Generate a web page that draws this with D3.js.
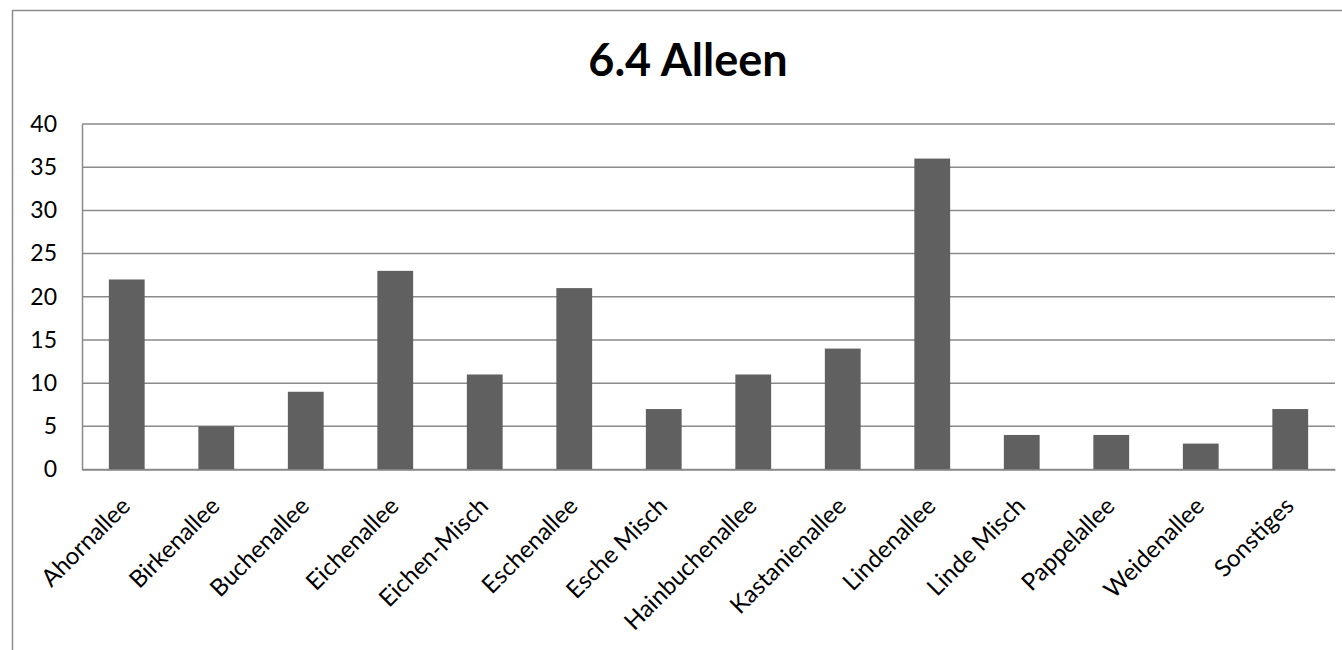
<!DOCTYPE html>
<html>
<head>
<meta charset="utf-8">
<script src="https://cdn.jsdelivr.net/npm/d3@7"></script>
<style>
  html, body { margin: 0; padding: 0; background: #fff; }
  svg { display: block; font-family: Lato, "Open Sans", sans-serif; }
</style>
</head>
<body>
<svg id="chart" width="1342" height="650"></svg>
<script>
// Alleen nach Baumart
const categories = ["Ahornallee", "Birkenallee", "Buchenallee", "Eichenallee", "Eichen-Misch",
  "Eschenallee", "Esche Misch", "Hainbuchenallee", "Kastanienallee", "Lindenallee",
  "Linde Misch", "Pappelallee", "Weidenallee", "Sonstiges"];
const counts = [22, 5, 9, 23, 11, 21, 7, 11, 14, 36, 4, 4, 3, 7];
const yTicks = [0, 5, 10, 15, 20, 25, 30, 35, 40];
const title = "6.4 Alleen";

const svg = d3.select("#chart");
const W = 1342, H = 650;
const plot = { left: 82, right: 1335, top: 124, bottom: 469.5 };

// outer chart frame (top and left edges visible)
svg.append("path")
  .attr("d", `M12.5,${H} L12.5,10.5 L${W},10.5`)
  .attr("fill", "none")
  .attr("stroke", "#8c8c8c")
  .attr("stroke-width", 1.5);

svg.append("text")
  .attr("x", 688)
  .attr("y", 76)
  .attr("text-anchor", "middle")
  .attr("font-weight", "bold")
  .attr("font-size", 45)
  .attr("fill", "#000")
  .text(title);

const x = d3.scaleBand()
  .domain(categories)
  .range([plot.left, plot.right])
  .paddingInner(0.6)
  .paddingOuter(0.3);

const y = d3.scaleLinear()
  .domain([0, 40])
  .range([plot.bottom, plot.top]);

// horizontal gridlines
svg.append("g")
  .selectAll("line")
  .data(yTicks)
  .join("line")
  .attr("x1", plot.left)
  .attr("x2", plot.right)
  .attr("y1", d => y(d))
  .attr("y2", d => y(d))
  .attr("stroke", "#8a8a8a")
  .attr("stroke-width", 1.5);

// y axis
const yAxis = svg.append("g")
  .attr("transform", `translate(${plot.left},0)`)
  .call(d3.axisLeft(y).tickValues(yTicks).tickSize(0).tickPadding(25));
yAxis.select(".domain").attr("stroke", "#8a8a8a").attr("stroke-width", 1.5);
yAxis.selectAll("text")
  .attr("font-size", 23)
  .attr("font-family", "Lato, sans-serif")
  .attr("fill", "#000");

// bars
svg.append("g")
  .selectAll("rect")
  .data(categories.map((c, i) => ({ c, v: counts[i] })))
  .join("rect")
  .attr("x", d => x(d.c))
  .attr("y", d => y(d.v))
  .attr("width", x.bandwidth())
  .attr("height", d => y(0) - y(d.v))
  .attr("fill", "#606060");

// x axis with rotated labels
const xAxis = svg.append("g")
  .attr("transform", `translate(0,${plot.bottom})`)
  .call(d3.axisBottom(x).tickSize(0).tickPadding(0));
xAxis.select(".domain").attr("stroke", "#8a8a8a").attr("stroke-width", 1.5);
xAxis.selectAll(".tick text")
  .attr("font-size", 24)
  .attr("font-family", "Lato, sans-serif")
  .attr("fill", "#000")
  .attr("text-anchor", "end")
  .attr("dy", 0)
  .attr("transform", "translate(5,38) rotate(-45)");
</script>
</body>
</html>
